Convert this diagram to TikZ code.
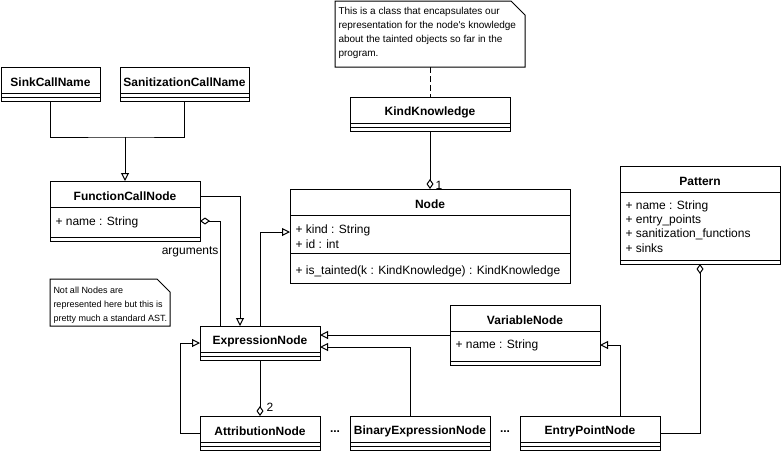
\documentclass[tikz,border=0pt]{standalone}
\usepackage{fontspec}
\setmainfont{Liberation Sans}
\usetikzlibrary{arrows.meta,calc}
\tikzset{
  clsbox/.style={draw, fill=white, anchor=north west, inner sep=0pt, outer sep=0pt},
  clstitle/.style={font=\bfseries\fontsize{12}{14}\selectfont, inner sep=0pt},
  attr/.style={anchor=west, inner sep=0pt, font=\fontsize{12}{14}\selectfont},
  lbl/.style={inner sep=0pt, font=\fontsize{12}{14}\selectfont},
  notebox/.style={anchor=north west, inner sep=0pt, outer sep=0pt},
  gen/.style={-{Triangle[open,length=8pt,width=8pt]}},
  agg/.style={{Diamond[open,length=10pt,width=7pt]}-},
  notedash/.style={dash pattern=on 6pt off 3pt},
}
\newcommand{\umlclass}[7]{%
  \node[clsbox, minimum width=#4pt, minimum height=#5pt] (#1) at (#2,#3) {};
  \node[clstitle] (#1-t) at ($(#1.north)+(0,15)$) {#7};
  \draw ($(#1.north west)+(0,26)$) -- ($(#1.north east)+(0,26)$);
  \draw ($(#1.north west)+(0,#6)$) -- ($(#1.north east)+(0,#6)$);
}
\begin{document}
\begin{tikzpicture}[x=1pt,y=-1pt,line width=1pt]
\useasboundingbox (0,0) rectangle (781,451);

% notes
\node[notebox, minimum width=190pt, minimum height=66pt] (note1) at (335,1) {};
\draw[fill=white] (note1.north west) -- ($(note1.north east)+(-14,0)$) -- ($(note1.north east)+(0,14)$) -- (note1.south east) -- (note1.south west) -- cycle;
\node[anchor=north west, inner sep=0pt, align=left, font=\fontsize{10}{14}\selectfont] (note1-t) at (338,6.5)
  {This is a class that encapsulates our\\representation for the node\textquotesingle s knowledge\\about the tainted objects so far in the\\program.};

\node[notebox, minimum width=120pt, minimum height=47pt] (note2) at (50,279) {};
\draw[fill=white] (note2.north west) -- ($(note2.north east)+(-13,0)$) -- ($(note2.north east)+(0,13)$) -- (note2.south east) -- (note2.south west) -- cycle;
\node[anchor=north west, inner sep=0pt, align=left, font=\fontsize{9}{14}\selectfont] (note2-t) at (53,286)
  {Not all Nodes are\\represented here but this is\\pretty much a standard AST.};

% classes
\umlclass{sink}{1}{67}{99}{34}{30}{SinkCallName}
\umlclass{sanit}{120}{67}{129}{34}{30}{SanitizationCallName}
\umlclass{know}{350}{97}{160}{34}{30}{KindKnowledge}
\umlclass{fcn}{50}{181}{150}{60}{56}{FunctionCallNode}
\node[attr] (fcn-a) at ($(fcn.north west)+(5,41)$) {+ name : String};
\umlclass{node}{290}{189}{280}{94}{64}{Node}
\node[attr] (node-a1) at ($(node.north west)+(5,41)$) {+ kind : String};
\node[attr] (node-a2) at ($(node.north west)+(5,55)$) {+ id : int};
\node[attr] (node-m) at ($(node.north west)+(5,82)$) {+ is\_tainted(k : KindKnowledge) : KindKnowledge};
\umlclass{pattern}{620}{166}{160}{98}{94}{Pattern}
\node[attr] (pat-a1) at ($(pattern.north west)+(5,40)$) {+ name : String};
\node[attr] (pat-a2) at ($(pattern.north west)+(5,54)$) {+ entry\_points};
\node[attr] (pat-a3) at ($(pattern.north west)+(5,68)$) {+ sanitization\_functions};
\node[attr] (pat-a4) at ($(pattern.north west)+(5,82)$) {+ sinks};
\umlclass{var}{450}{305}{150}{60}{56}{VariableNode}
\node[attr] (var-a) at ($(var.north west)+(5,40)$) {+ name : String};
\umlclass{expr}{200}{326}{120}{34}{30}{ExpressionNode}
\umlclass{attr}{200}{416}{120}{34}{30}{AttributionNode}
\umlclass{bin}{350}{416}{140}{34}{30}{BinaryExpressionNode}
\umlclass{entry}{520}{416}{140}{34}{30}{EntryPointNode}

\node[clstitle] (dots1) at (335,432) {...};
\node[clstitle] (dots2) at (505,432) {...};

% connectors
\coordinate (j1) at ($(fcn.north)+(0,-44)$);
\draw (sink.south) |- (j1) -| (sanit.south);
\draw[gen] (j1) -- (fcn.north);
\draw[gen] ($(fcn.north east)+(0,15)$) -| ($(expr.north west)+(40,0)$);
\draw[agg] ($(fcn.north east)+(0,40)$) -| ($(expr.north west)+(20,0)$);
\node[lbl, anchor=east] (lblargs) at ($(fcn.south east)+(19,11)$) {arguments};
\draw[gen] (expr.north) |- ($(node.north west)+(0,43)$);
\draw[agg] (node.north) -- (know.south);
\node[lbl] (lbl1) at ($(node.north)+(9,-4)$) {1};
\draw[notedash] (note1.south) -- (know.north);
\draw[agg] (attr.north) -- (expr.south);
\node[lbl] (lbl2) at ($(attr.north)+(10,-9)$) {2};
\draw[gen] (attr.west) -- ++(-20,0) |- ($(expr.north west)+(0,17)$);
\draw[gen] ($(var.north west)+(0,30)$) -- ($(expr.north east)+(0,9)$);
\draw[gen] ($(bin.north west)+(60,0)$) |- ($(expr.north east)+(0,21)$);
\draw[gen] ($(entry.north west)+(100,0)$) |- ($(var.north east)+(0,40)$);
\draw[agg] (pattern.south) |- (entry.east);
\end{tikzpicture}
\end{document}
